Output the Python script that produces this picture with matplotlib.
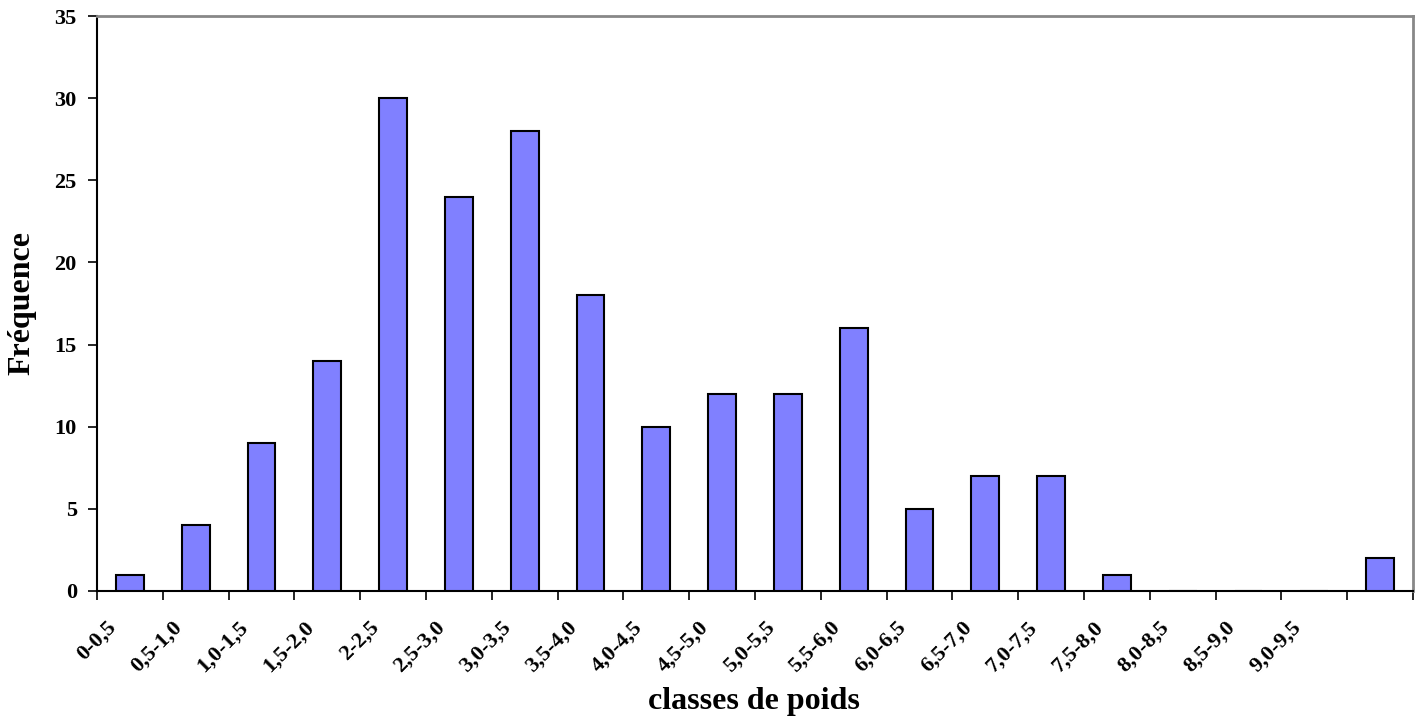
import matplotlib
matplotlib.use("Agg")
import matplotlib.pyplot as plt
import numpy as np

classes = ["0-0,5", "0,5-1,0", "1,0-1,5", "1,5-2,0", "2-2,5", "2,5-3,0", "3,0-3,5",
           "3,5-4,0", "4,0-4,5", "4,5-5,0", "5,0-5,5", "5,5-6,0", "6,0-6,5", "6,5-7,0",
           "7,0-7,5", "7,5-8,0", "8,0-8,5", "8,5-9,0", "9,0-9,5", ""]
frequences = [1, 4, 9, 14, 30, 24, 28, 18, 10, 12, 12, 16, 5, 7, 7, 1, 0, 0, 0, 2]
y_ticks = [0, 5, 10, 15, 20, 25, 30, 35]

plt.rcParams["font.family"] = ["Liberation Serif", "DejaVu Serif"]
plt.rcParams["font.weight"] = "bold"

W, H = 1419, 719
fig = plt.figure(figsize=(W / 100, H / 100), dpi=100)
ax = fig.add_axes([97 / W, 1 - 591 / H, (1413 - 97) / W, (591 - 16) / H])

x = np.arange(len(classes))
ax.bar(x, frequences, width=0.42, color="#8080FF", edgecolor="black", linewidth=1.5, zorder=3)

ax.set_xlim(-0.5, len(classes) - 0.5)
ax.set_ylim(0, 35)
ax.set_yticks(y_ticks)
ax.set_yticklabels([str(v) for v in y_ticks], fontsize=16, fontweight="bold")

# category boundary ticks, labels under each category
ax.set_xticks(np.arange(len(classes) + 1) - 0.5)
ax.set_xticklabels([])
ax.tick_params(axis="x", direction="out", length=6.5, width=1.2, color="black")
ax.tick_params(axis="y", direction="out", length=6.5, width=1.2, color="black", pad=8)

for xi, lab in zip(x, classes):
    ax.annotate(lab, xy=(xi, 0), xycoords="data", xytext=(-17, -19), textcoords="offset points",
                rotation=45, ha="right", va="top", rotation_mode="anchor",
                fontsize=16, fontweight="bold")

for side in ["left", "bottom"]:
    ax.spines[side].set_color("black")
    ax.spines[side].set_linewidth(1.5)
for side in ["top", "right"]:
    ax.spines[side].set_color("#888888")
    ax.spines[side].set_linewidth(2)

fig.text(22 / W, 1 - 303 / H, "Fréquence", rotation=90, ha="center", va="center",
         fontsize=23, fontweight="bold")
fig.text(754 / W, 1 - 702 / H, "classes de poids", ha="center", va="center",
         fontsize=23, fontweight="bold")

fig.savefig("out.png", dpi=100)
